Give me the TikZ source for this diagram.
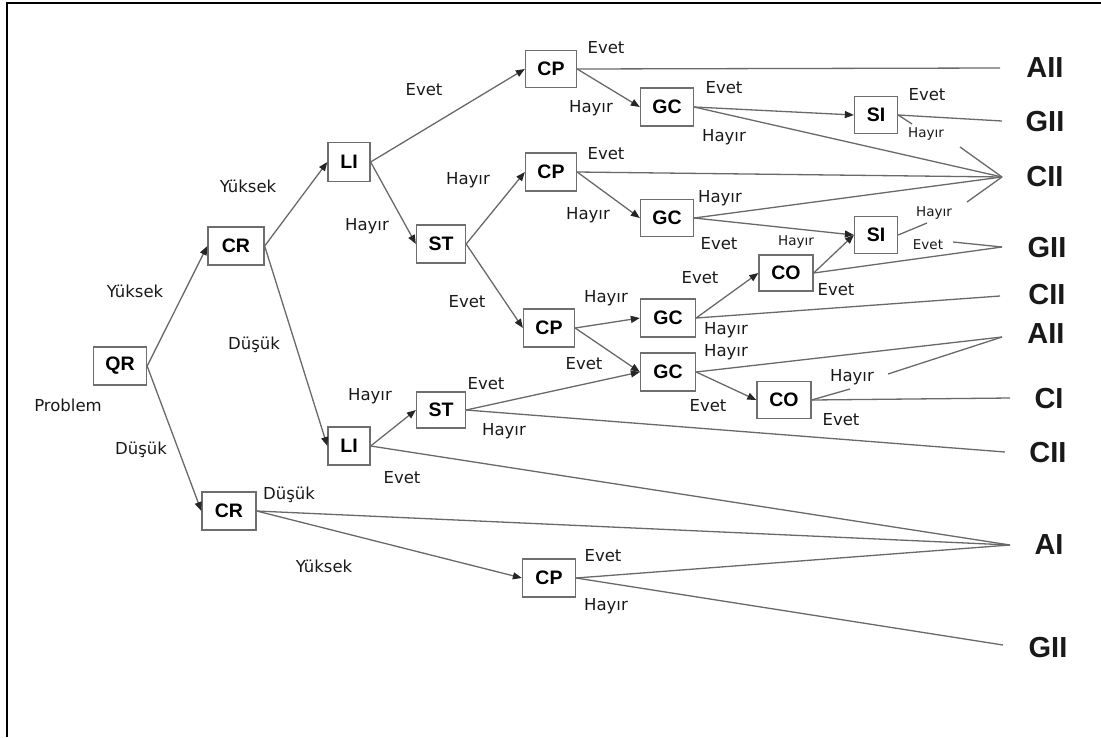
\documentclass[tikz,border=0pt]{standalone}
\usepackage{fontspec}
\setmainfont{DejaVu Sans}
\newfontfamily\boxfont{Liberation Sans}
\usetikzlibrary{arrows.meta}
\definecolor{boxgray}{RGB}{110,110,110}
\definecolor{linegray}{RGB}{105,105,105}
\begin{document}
\begin{tikzpicture}[x=1pt,y=-1pt,
  box/.style={draw=boxgray, line width=1.3pt, fill=white, inner sep=0pt,
    font=\boxfont\bfseries\fontsize{19.5}{20}\selectfont},
  lbl/.style={inner sep=0pt, text=black!90, font=\fontsize{16.5}{18}\selectfont},
  slbl/.style={inner sep=0pt, text=black!90, font=\fontsize{13.5}{15}\selectfont},
  outc/.style={inner sep=0pt, text=black!90, font=\boxfont\bfseries\fontsize{29}{30}\selectfont},
  conn/.style={draw=linegray, line width=1.3pt},
  arr/.style={conn, -{Triangle[length=9pt,width=7pt,color=black!85]}},
  frame/.style={draw=black, line width=2pt},
]
\useasboundingbox (0,0) rectangle (1101,737);
% frame
\coordinate (fBL) at (7,737);
\coordinate (fTL) at (7,3);
\coordinate (fTR) at (1101,3);
\draw[frame] (fBL) -- (fTL) -- (fTR);

% decision boxes
\node[box, minimum width=53pt, minimum height=38pt] (QR)  at (120,366) {QR};
\node[box, minimum width=56pt, minimum height=38pt] (CRa) at (236,246) {CR};
\node[box, minimum width=54pt, minimum height=38pt] (CRb) at (229,511) {CR};
\node[box, minimum width=42pt, minimum height=39pt] (LIa) at (349,162) {LI};
\node[box, minimum width=42pt, minimum height=38pt] (LIb) at (349,446) {LI};
\node[box, minimum width=49pt, minimum height=38pt] (STa) at (441,244) {ST};
\node[box, minimum width=49pt, minimum height=36pt] (STb) at (441,410) {ST};
\node[box, minimum width=51pt, minimum height=37pt] (CPa) at (551,69) {CP};
\node[box, minimum width=51pt, minimum height=38pt] (CPb) at (551,172) {CP};
\node[box, minimum width=51pt, minimum height=38pt] (CPc) at (549,328) {CP};
\node[box, minimum width=53pt, minimum height=38pt] (CPd) at (549,578) {CP};
\node[box, minimum width=53pt, minimum height=38pt] (GCa) at (667,107) {GC};
\node[box, minimum width=53pt, minimum height=37pt] (GCb) at (667,218) {GC};
\node[box, minimum width=55pt, minimum height=38pt] (GCc) at (668,318) {GC};
\node[box, minimum width=55pt, minimum height=38pt] (GCd) at (668,372) {GC};
\node[box, minimum width=43pt, minimum height=37pt] (SIa) at (876,115) {SI};
\node[box, minimum width=43pt, minimum height=37pt] (SIb) at (876,235) {SI};
\node[box, minimum width=54pt, minimum height=36pt] (COa) at (786,273) {CO};
\node[box, minimum width=54pt, minimum height=37pt] (COb) at (784,400) {CO};

% outcomes
\node[outc] (oAIIa) at (1045,68) {AII};
\node[outc] (oGIIa) at (1045,122) {GII};
\node[outc] (oCIIa) at (1045,177) {CII};
\node[outc] (oGIIb) at (1047,248) {GII};
\node[outc] (oCIIb) at (1047,295) {CII};
\node[outc] (oAIIb) at (1046,334) {AII};
\node[outc] (oCI)   at (1049,399) {CI};
\node[outc] (oCIIc) at (1048,453) {CII};
\node[outc] (oAI)   at (1049,545) {AI};
\node[outc] (oGIIc) at (1048,648) {GII};

% line end points near outcomes
\coordinate (pAIIa) at (1000,68);
\coordinate (pGIIa) at (1002,121);
\coordinate (pCIIa) at (1002,177);
\coordinate (pGIIb) at (1002,247);
\coordinate (pCIIb) at (1000,296);
\coordinate (pAIIb) at (1002,337);
\coordinate (pCI)   at (1010,398);
\coordinate (pCIIc) at (1005,452);
\coordinate (pAI)   at (1010,545);
\coordinate (pGIIc) at (1003,645);
% breaks around labels
\coordinate (hSIa1) at (912,124);
\coordinate (hSIa2) at (960,147);
\coordinate (hSIb1) at (927,223);
\coordinate (hSIb2) at (967,202);
\coordinate (eSIb2) at (953,242);
\coordinate (hCOb1) at (850,389);
\coordinate (hCOb2) at (888,374);

% arrows
\draw[arr] (QR.east) -- (CRa.west);
\draw[arr] (QR.east) -- (CRb.west);
\draw[arr] (CRa.east) -- (LIa.west);
\draw[arr] (CRa.east) -- (LIb.west);
\draw[arr] (LIa.east) -- (CPa.west);
\draw[arr] (LIa.east) -- (STa.west);
\draw[arr] (STa.east) -- (CPb.west);
\draw[arr] (STa.east) -- (CPc.west);
\draw[arr] (CPa.east) -- (GCa.west);
\draw[arr] (CPb.east) -- (GCb.west);
\draw[arr] (GCa.east) -- (SIa.west);
\draw[arr] (GCb.east) -- (SIb.west);
\draw[arr] (CPc.east) -- (GCc.west);
\draw[arr] (CPc.east) -- (GCd.west);
\draw[arr] (GCc.east) -- (COa.west);
\draw[arr] (COa.east) -- (SIb.west);
\draw[arr] (LIb.east) -- (STb.west);
\draw[arr] (STb.east) -- (GCd.west);
\draw[arr] (GCd.east) -- (COb.west);
\draw[arr] (CRb.east) -- (CPd.west);

% plain lines to outcomes
\draw[conn] (CPa.east) -- (pAIIa);
\draw[conn] (SIa.east) -- (pGIIa);
\draw[conn] (SIa.east) -- (hSIa1);
\draw[conn] (hSIa2) -- (pCIIa);
\draw[conn] (GCa.east) -- (pCIIa);
\draw[conn] (CPb.east) -- (pCIIa);
\draw[conn] (GCb.east) -- (pCIIa);
\draw[conn] (SIb.east) -- (hSIb1);
\draw[conn] (hSIb2) -- (pCIIa);
\draw[conn] (eSIb2) -- (pGIIb);
\draw[conn] (COa.east) -- (pGIIb);
\draw[conn] (GCc.east) -- (pCIIb);
\draw[conn] (GCd.east) -- (pAIIb);
\draw[conn] (COb.east) -- (hCOb1);
\draw[conn] (hCOb2) -- (pAIIb);
\draw[conn] (COb.east) -- (pCI);
\draw[conn] (STb.east) -- (pCIIc);
\draw[conn] (LIb.east) -- (pAI);
\draw[conn] (CRb.east) -- (pAI);
\draw[conn] (CPd.east) -- (pAI);
\draw[conn] (CPd.east) -- (pGIIc);

% labels
\node[lbl] (lProb) at (68,405) {Problem};
\node[lbl] (lYa) at (135,291) {Yüksek};
\node[lbl] (lDa) at (141,450) {Düşük};
\node[lbl] (lYb) at (248,186) {Yüksek};
\node[lbl] (lDb) at (254,345) {Düşük};
\node[lbl] (lEa) at (424,90) {Evet};
\node[lbl] (lHa) at (367,226) {Hayır};
\node[lbl] (lEb) at (606,48) {Evet};
\node[lbl] (lHb) at (591,108) {Hayır};
\node[lbl] (lEc) at (724,88) {Evet};
\node[lbl] (lHc) at (724,137) {Hayır};
\node[lbl] (lEd) at (927,95) {Evet};
\node[slbl] (lHd) at (926,134) {Hayır};
\node[lbl] (lEe) at (606,154) {Evet};
\node[lbl] (lHe) at (468,180) {Hayır};
\node[lbl] (lHf) at (588,215) {Hayır};
\node[lbl] (lHg) at (720,198) {Hayır};
\node[lbl] (lEf) at (719,244) {Evet};
\node[slbl] (lHh) at (934,213) {Hayır};
\node[slbl] (lEg) at (928,245) {Evet};
\node[slbl] (lHi) at (796,242) {Hayır};
\node[lbl] (lEh) at (700,278) {Evet};
\node[lbl] (lEi) at (836,290) {Evet};
\node[lbl] (lEj) at (467,302) {Evet};
\node[lbl] (lHj) at (606,298) {Hayır};
\node[lbl] (lHk) at (726,330) {Hayır};
\node[lbl] (lHl) at (726,352) {Hayır};
\node[lbl] (lEk) at (584,364) {Evet};
\node[lbl] (lEl) at (708,406) {Evet};
\node[lbl] (lHm) at (852,377) {Hayır};
\node[lbl] (lEm) at (841,420) {Evet};
\node[lbl] (lHn) at (370,396) {Hayır};
\node[lbl] (lEn) at (486,384) {Evet};
\node[lbl] (lHo) at (504,431) {Hayır};
\node[lbl] (lEo) at (402,478) {Evet};
\node[lbl] (lDc) at (289,495) {Düşük};
\node[lbl] (lYc) at (324,566) {Yüksek};
\node[lbl] (lEp) at (603,556) {Evet};
\node[lbl] (lHp) at (606,606) {Hayır};
\end{tikzpicture}
\end{document}
